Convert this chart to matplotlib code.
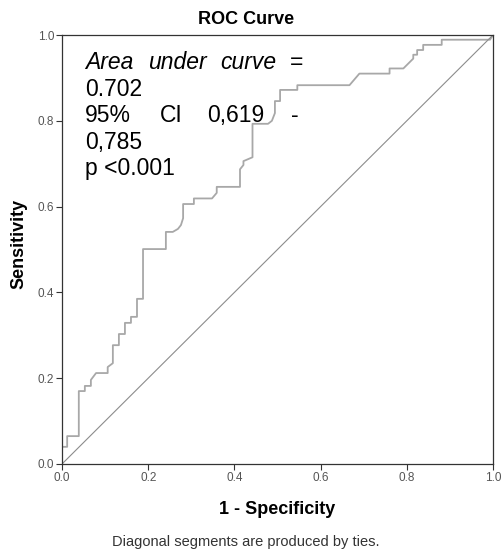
import matplotlib
matplotlib.use("Agg")
import matplotlib.pyplot as plt

plt.rcParams['font.family'] = ['Liberation Sans', 'DejaVu Sans']

# ROC curve vertices (1 - specificity, sensitivity)
fpr = [0.0, 0.0, 0.012, 0.012, 0.039, 0.039, 0.053, 0.053, 0.067, 0.067, 0.079, 0.106,
       0.106, 0.118, 0.118, 0.132, 0.132, 0.146, 0.146, 0.160, 0.160, 0.174, 0.174,
       0.188, 0.188, 0.241, 0.241, 0.257, 0.269, 0.276, 0.281, 0.281, 0.306, 0.306,
       0.348, 0.359, 0.359, 0.413, 0.413, 0.421, 0.421, 0.442, 0.442, 0.478, 0.487,
       0.494, 0.494, 0.506, 0.506, 0.546, 0.546, 0.667, 0.690, 0.760, 0.760, 0.792,
       0.815, 0.815, 0.824, 0.824, 0.838, 0.838, 0.881, 0.881, 0.993, 1.0]
tpr = [0.0, 0.040, 0.040, 0.065, 0.065, 0.170, 0.170, 0.182, 0.182, 0.196, 0.212, 0.212,
       0.226, 0.235, 0.277, 0.277, 0.303, 0.303, 0.329, 0.329, 0.343, 0.343, 0.385,
       0.385, 0.501, 0.501, 0.541, 0.541, 0.548, 0.557, 0.573, 0.606, 0.606, 0.619,
       0.619, 0.632, 0.646, 0.646, 0.687, 0.697, 0.706, 0.715, 0.793, 0.793, 0.800,
       0.818, 0.846, 0.846, 0.872, 0.872, 0.883, 0.883, 0.910, 0.910, 0.922, 0.922,
       0.945, 0.954, 0.954, 0.965, 0.965, 0.977, 0.977, 0.989, 0.989, 1.0]

ref_line = [0.0, 1.0]
ticks = [0.0, 0.2, 0.4, 0.6, 0.8, 1.0]
tick_labels = ["0.0", "0.2", "0.4", "0.6", "0.8", "1.0"]

W, H = 503, 550
fig = plt.figure(figsize=(W / 100, H / 100), dpi=100)
ax = fig.add_axes([62/W, 1 - 464/H, 431/W, 429/H])

ax.plot(fpr, tpr, color="#a8a8a8", lw=1.3)
ax.plot(ref_line, ref_line, color="#8c8c8c", lw=0.8)

ax.set_xlim(0, 1)
ax.set_ylim(0, 1)
ax.set_xticks(ticks)
ax.set_xticklabels(tick_labels)
ax.set_yticks(ticks)
ax.set_yticklabels(tick_labels)
ax.tick_params(direction="out", length=4, width=0.8, labelsize=8.5,
               labelcolor="#555555", color="#333333", pad=1.5)
for s in ax.spines.values():
    s.set_color("#333333")
    s.set_linewidth(0.9)

# title / axis labels placed like the SPSS output
fig.text(246/W, 1 - 19/H, "ROC Curve", ha="center", va="center",
         fontsize=13, fontweight="bold")
fig.text(277/W, 1 - 510/H, "1 - Specificity", ha="center", va="center",
         fontsize=13, fontweight="bold")
fig.text(18.5/W, 1 - 244/H, "Sensitivity", ha="center", va="center",
         rotation=90, fontsize=13, fontweight="bold")
fig.text(246/W, 1 - 542/H, "Diagonal segments are produced by ties.",
         ha="center", va="center", fontsize=10.5, color="#333333")

# annotation, justified like the original
def px(x, y):
    return ((x - 62) / 431, (464 - y) / 429)

fs = 16.5
kw = dict(transform=ax.transAxes, fontsize=fs, va="baseline", color="black")
y1, dy = 69, 26.5
for word, x in [("Area", 85), ("under", 148), ("curve", 220)]:
    ax.text(*px(x, y1), word, style="italic", **kw)
ax.text(*px(290, y1), "=", **kw)
ax.text(*px(85, y1 + dy), "0.702", **kw)
for word, x in [("95%", 85), ("CI", 160), ("0,619", 207), ("-", 291)]:
    ax.text(*px(x, y1 + 2 * dy), word, **kw)
ax.text(*px(85, y1 + 3 * dy), "0,785", **kw)
ax.text(*px(85, y1 + 4 * dy), "p <0.001", **kw)

fig.savefig("out.png", dpi=100)
